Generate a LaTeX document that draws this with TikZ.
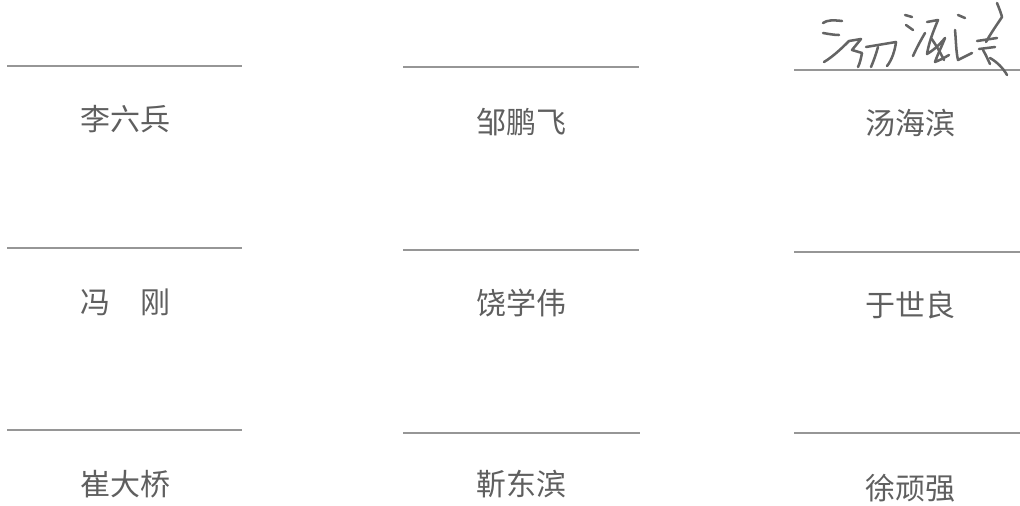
\documentclass[tikz,border=0pt]{standalone}
\usepackage{fontspec}
\newfontfamily\cjk{Noto Sans CJK SC}
\definecolor{inkgray}{RGB}{95,95,95}
\definecolor{rulegray}{RGB}{150,150,150}
\definecolor{signgray}{RGB}{100,100,100}
\begin{document}
\begin{tikzpicture}[x=0.75pt,y=-0.75pt,
  namebox/.style={inner sep=0pt,anchor=center,text=inkgray,font=\cjk\fontsize{22.5}{22.5}\selectfont},
  signrule/.style={draw=rulegray,line width=0.9pt},
  pen/.style={draw=signgray,line width=1.9pt,line cap=round,line join=round}]
\useasboundingbox (0,0) rectangle (1020,506);
% rule end points
\coordinate (r1a) at (7,66);   \coordinate (r1b) at (242,66);
\coordinate (r2a) at (403,67); \coordinate (r2b) at (639,67);
\coordinate (r3a) at (794,70); \coordinate (r3b) at (1020,70);
\coordinate (r4a) at (7,248);   \coordinate (r4b) at (242,248);
\coordinate (r5a) at (403,250); \coordinate (r5b) at (639,250);
\coordinate (r6a) at (794,252); \coordinate (r6b) at (1020,252);
\coordinate (r7a) at (7,430);   \coordinate (r7b) at (242,430);
\coordinate (r8a) at (403,433); \coordinate (r8b) at (640,433);
\coordinate (r9a) at (794,433); \coordinate (r9b) at (1020,433);
\foreach \i in {1,...,9}{\draw[signrule] (r\i a) -- (r\i b);}
% names
\node[namebox] (n1) at (125,119) {李六兵};
\node[namebox] (n2) at (521,122) {邹鹏飞};
\node[namebox] (n3) at (910,123) {汤海滨};
\node[namebox] (n4) at (125,302) {冯　刚};
\node[namebox] (n5) at (521,303) {饶学伟};
\node[namebox] (n6) at (910,305) {于世良};
\node[namebox] (n7) at (125,484) {崔大桥};
\node[namebox] (n8) at (521,484) {靳东滨};
\node[namebox] (n9) at (910,488) {徐顽强};
% handwritten signature
\draw[pen] (823,23) .. controls (827,20) and (833,20) .. (842,21);
\draw[pen] (823,33) .. controls (829,34) and (834,35) .. (839,35);
\draw[pen] (824,62) .. controls (834,56) and (844,46) .. (849,41) -- (861,39)
  -- (852,50) -- (862,53) .. controls (861,58) and (860,63) .. (858,67);
\draw[pen] (866,47) .. controls (878,45) and (890,43) .. (896,42)
  .. controls (895,50) and (892,60) .. (887,66);
\draw[pen] (878,47) .. controls (876,54) and (874,60) .. (871,67);
\draw[pen] (905,15) -- (912,17);
\draw[pen] (906,25) -- (913,30);
\draw[pen] (913,56) .. controls (917,47) and (921,40) .. (925,33);
\draw[pen] (927,22) -- (938,20) .. controls (933,32) and (929,42) .. (927,54)
  .. controls (934,50) and (940,44) .. (945,38) .. controls (941,48) and (937,56) .. (935,62)
  .. controls (940,60) and (944,58) .. (949,55);
\draw[pen] (931,38) .. controls (936,45) and (940,52) .. (944,60);
\draw[pen] (958,15) -- (965,18);
\draw[pen] (955,30) .. controls (956,40) and (956,52) .. (958,60) -- (972,53);
\draw[pen] (997,3) .. controls (999,8) and (1001,13) .. (1002,17)
  .. controls (996,26) and (991,33) .. (986,42);
\draw[pen] (977,41) -- (997,38);
\draw[pen] (979,49) -- (995,47);
\draw[pen] (983,50) .. controls (986,55) and (988,60) .. (990,64);
\draw[pen] (990,58) .. controls (997,62) and (1003,68) .. (1007,75);
\end{tikzpicture}
\end{document}
